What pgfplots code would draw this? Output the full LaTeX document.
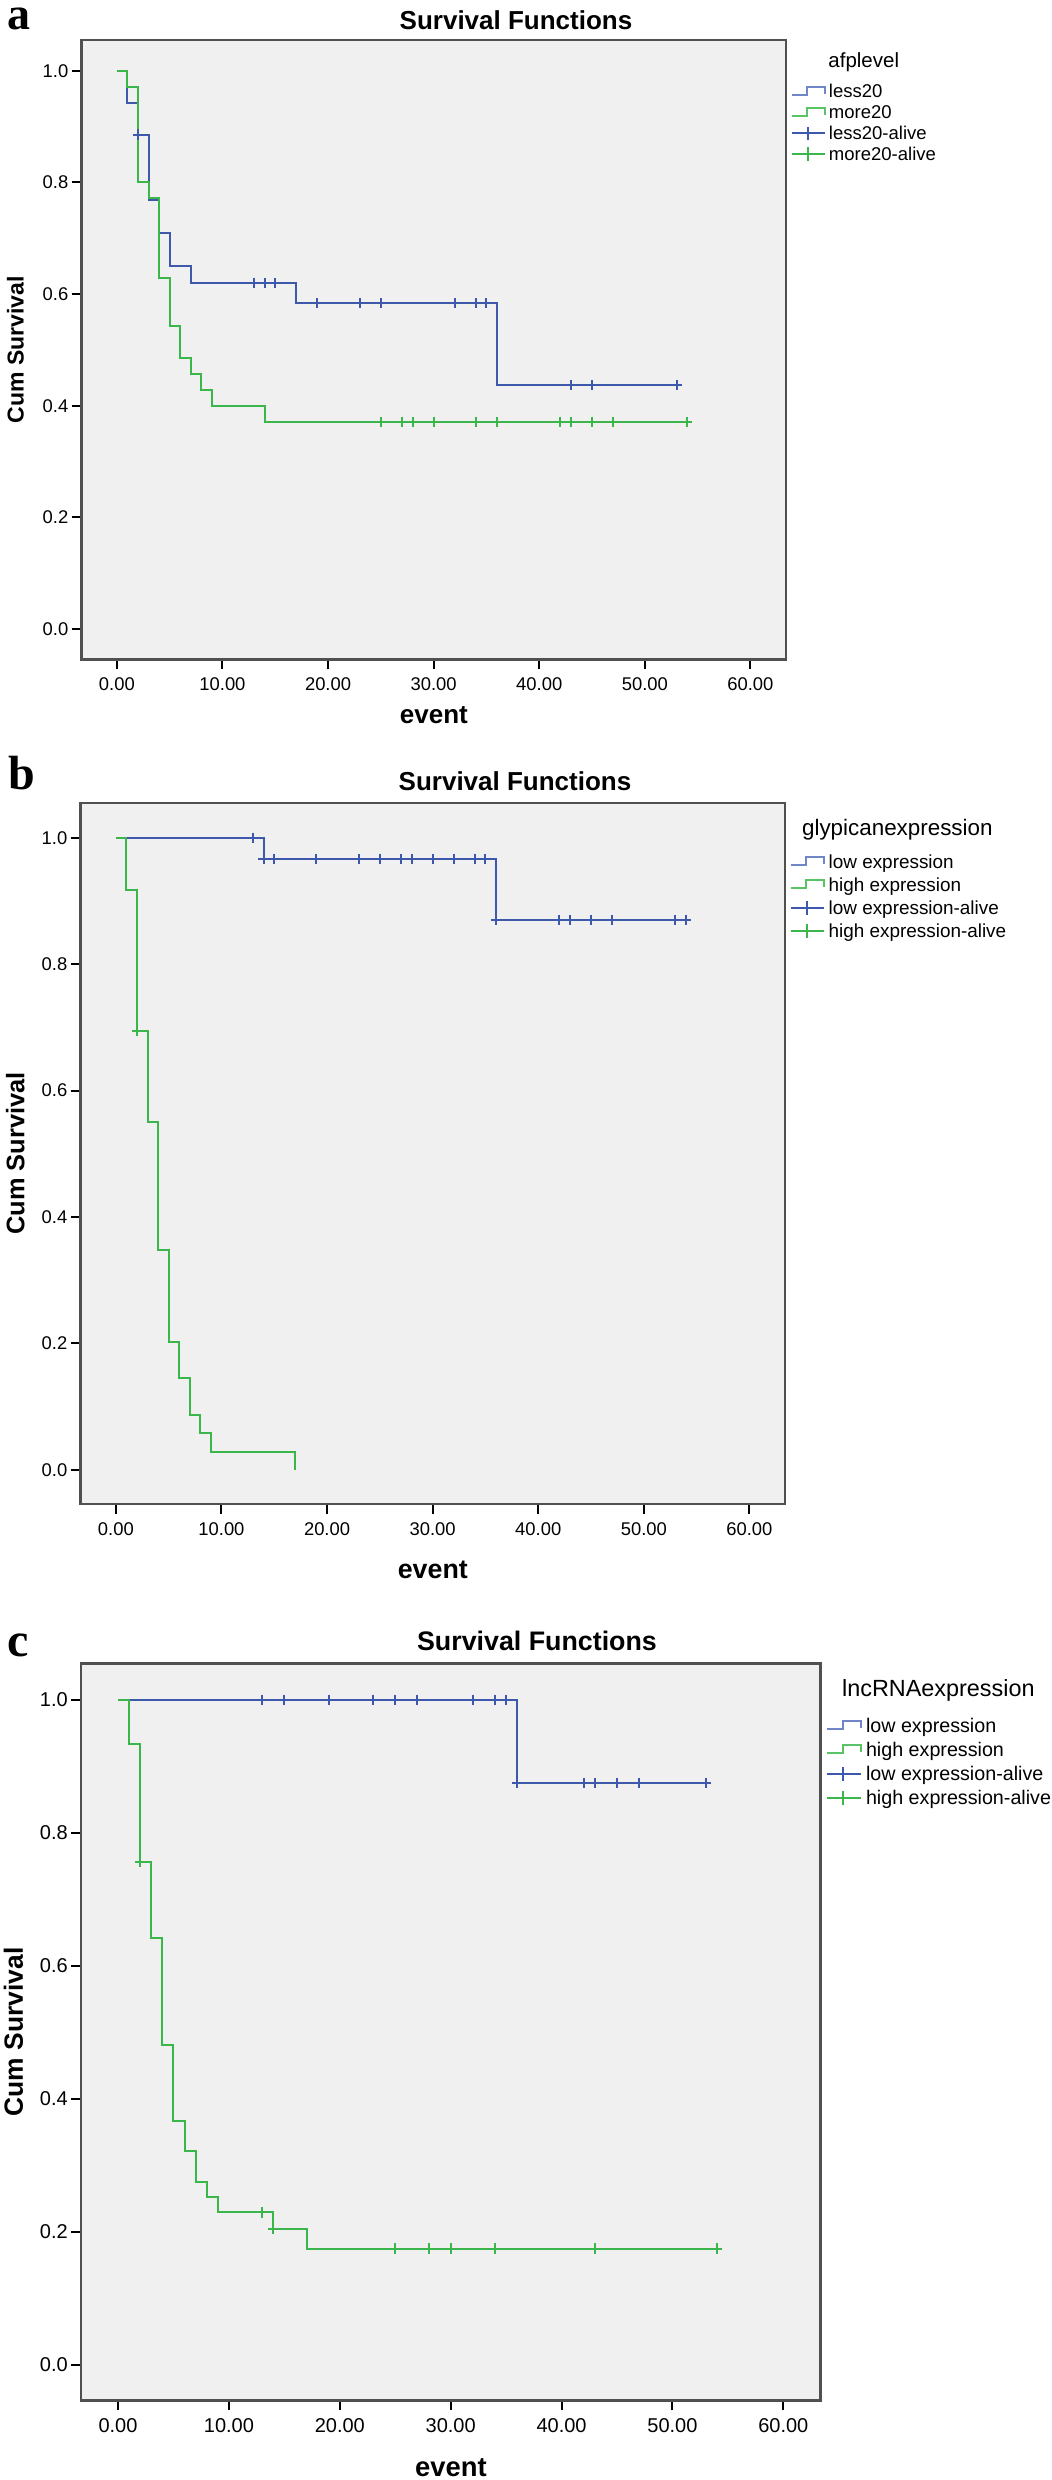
\documentclass[border=0pt]{standalone}
\usepackage{pgfplots}
\pgfplotsset{compat=1.18}
\usepackage{fontspec}
\setmainfont{Liberation Sans}
\newfontfamily\letterfont{Liberation Serif}
\definecolor{kmblue}{RGB}{62,88,172}
\definecolor{kmgreen}{RGB}{58,182,74}
\definecolor{kmblueL}{RGB}{112,134,200}
\definecolor{kmgreenL}{RGB}{88,196,100}
\definecolor{bggray}{RGB}{240,240,240}
\definecolor{framegray}{RGB}{80,80,80}

\pgfplotsset{
  kmaxis/.style={
    scale only axis, anchor=south west,
    xmin=-3.33, xmax=63.37, ymin=-0.054, ymax=1.055,
    axis background/.style={fill=bggray},
    axis line style={draw=framegray, line width=1.3pt},
    tick pos=left, tick align=outside, major tick length=5pt,
    tick style={black, line width=1pt},
    xtick={0,10,20,30,40,50,60}, ytick={0,0.2,0.4,0.6,0.8,1},
    scaled ticks=false,
    /pgf/number format/assume math mode=true,
    xticklabel style={/pgf/number format/fixed, /pgf/number format/fixed zerofill, /pgf/number format/precision=2, inner sep=4pt},
    yticklabel style={/pgf/number format/fixed, /pgf/number format/fixed zerofill, /pgf/number format/precision=1, inner sep=1.5pt},
    legend cell align=left,
  },
  surv/.style={const plot, mark=none, line width=1pt},
  cens/.style={only marks, mark=+, mark size=2.6pt, mark options={line width=1pt, solid}},
}

\begin{document}
\begin{tikzpicture}
\useasboundingbox (0pt,0pt) rectangle (525.5pt,1240pt);

% ---------------- panel a ----------------
\node[anchor=base west, inner sep=0pt, font=\letterfont\fontsize{23}{25}\selectfont\bfseries] at (3.5pt,1225.3pt) {a};
\node[inner sep=0pt, font=\fontsize{13}{15}\selectfont\bfseries] at (258pt,1229.8pt) {Survival Functions};
\node[anchor=west, inner sep=0pt, font=\fontsize{10.25}{12}\selectfont] at (414pt,1208.75pt) {afplevel};
\def\LW{16.5pt}
\begin{axis}[kmaxis,
  at={(40.85pt,910.35pt)}, width=352.15pt, height=309.65pt,
  ticklabel style={font=\fontsize{9.2}{11}\selectfont},
  xlabel={event}, ylabel={Cum Survival},
  xlabel style={at={(axis description cs:0.5,-0.0907)}, anchor=center, font=\fontsize{13}{15}\selectfont\bfseries},
  ylabel style={at={(axis description cs:-0.0941,0.5)}, anchor=center, font=\fontsize{11.5}{13}\selectfont\bfseries},
  legend style={at={(1,1)}, anchor=north west, xshift=2.5pt, yshift=-20.8pt, draw=none, fill=none,
    inner sep=0pt, outer sep=0pt, row sep=0pt, column sep=1.5pt,
    font=\fontsize{9.25}{11}\selectfont,
    nodes={inner sep=0pt, text height=8.175pt, text depth=2.175pt}},
]
\addplot[surv, kmblue, legend image code/.code={\draw[kmblueL, line width=1pt] (0pt,-1.5pt) -- (7.7pt,-1.5pt) -- (7.7pt,2.35pt) -- (\LW,2.35pt) -- (\LW,-1.2pt);}]
  coordinates {(0,1) (1,0.9429) (2,0.8857) (3,0.7676) (4,0.7086) (5,0.6495) (7,0.6200) (17,0.5835) (36,0.4376) (53,0.4376)};
\addlegendentry{less20}
\addplot[surv, kmgreen, legend image code/.code={\draw[kmgreenL, line width=1pt] (0pt,-1.5pt) -- (7.7pt,-1.5pt) -- (7.7pt,2.35pt) -- (\LW,2.35pt) -- (\LW,-1.2pt);}]
  coordinates {(0,1) (1,0.9714) (2,0.8000) (3,0.7714) (4,0.6286) (5,0.5429) (6,0.4857) (7,0.4571) (8,0.4286) (9,0.4000) (14,0.3714) (54,0.3714)};
\addlegendentry{more20}
\addplot[cens, kmblue, legend image code/.code={\draw[kmblue, line width=1pt] (0pt,0pt) -- (\LW,0pt); \draw[kmblue, line width=1pt] (0.475*\LW,-3.3pt) -- (0.475*\LW,3.3pt);}]
  coordinates {(2,0.8857) (13,0.6200) (13,0.6200) (14,0.6200) (15,0.6200) (19,0.5835) (23,0.5835) (23,0.5835) (25,0.5835) (25,0.5835) (32,0.5835) (34,0.5835) (35,0.5835) (43,0.4376) (45,0.4376) (53,0.4376)};
\addlegendentry{less20-alive}
\addplot[cens, kmgreen, legend image code/.code={\draw[kmgreen, line width=1pt] (0pt,0pt) -- (\LW,0pt); \draw[kmgreen, line width=1pt] (0.475*\LW,-3.3pt) -- (0.475*\LW,3.3pt);}]
  coordinates {(25,0.3714) (27,0.3714) (28,0.3714) (30,0.3714) (34,0.3714) (34,0.3714) (36,0.3714) (42,0.3714) (43,0.3714) (45,0.3714) (47,0.3714) (54,0.3714)};
\addlegendentry{more20-alive}
\end{axis}

% ---------------- panel b ----------------
\node[anchor=base west, inner sep=0pt, font=\letterfont\fontsize{24}{26}\selectfont\bfseries] at (4pt,845pt) {b};
\node[inner sep=0pt, font=\fontsize{13}{15}\selectfont\bfseries] at (257.5pt,849.5pt) {Survival Functions};
\node[anchor=west, inner sep=0pt, font=\fontsize{11.2}{13}\selectfont] at (400.85pt,825pt) {glypicanexpression};
\def\LW{16.35pt}
\begin{axis}[kmaxis,
  at={(40.35pt,488pt)}, width=352.15pt, height=350.5pt,
  ticklabel style={font=\fontsize{9.2}{11}\selectfont},
  xlabel={event}, ylabel={Cum Survival},
  xlabel style={at={(axis description cs:0.5,-0.0942)}, anchor=center, font=\fontsize{13.4}{15}\selectfont\bfseries},
  ylabel style={at={(axis description cs:-0.0927,0.5)}, anchor=center, font=\fontsize{12.7}{14}\selectfont\bfseries},
  legend style={at={(1,1)}, anchor=north west, xshift=2.5pt, yshift=-23.75pt, draw=none, fill=none,
    inner sep=0pt, outer sep=0pt, row sep=0pt, column sep=2pt,
    font=\fontsize{9.45}{11}\selectfont,
    nodes={inner sep=0pt, text height=8.85pt, text depth=2.65pt}},
]
\addplot[surv, kmblue, legend image code/.code={\draw[kmblueL, line width=1pt] (0pt,-1.5pt) -- (7.7pt,-1.5pt) -- (7.7pt,2.35pt) -- (\LW,2.35pt) -- (\LW,-1.2pt);}]
  coordinates {(0,1) (14,0.9667) (36,0.8700) (54,0.8700)};
\addlegendentry{low expression}
\addplot[surv, kmgreen, legend image code/.code={\draw[kmgreenL, line width=1pt] (0pt,-1.5pt) -- (7.7pt,-1.5pt) -- (7.7pt,2.35pt) -- (\LW,2.35pt) -- (\LW,-1.2pt);}]
  coordinates {(0,1) (1,0.9167) (2,0.6944) (3,0.5497) (4,0.3472) (5,0.2025) (6,0.1447) (7,0.0868) (8,0.0579) (9,0.0289) (17,0)};
\addlegendentry{high expression}
\addplot[cens, kmblue, legend image code/.code={\draw[kmblue, line width=1pt] (0pt,0pt) -- (\LW,0pt); \draw[kmblue, line width=1pt] (0.475*\LW,-3.3pt) -- (0.475*\LW,3.3pt);}]
  coordinates {(13,1) (13,1) (14,0.9667) (15,0.9667) (19,0.9667) (23,0.9667) (25,0.9667) (25,0.9667) (27,0.9667) (28,0.9667) (30,0.9667) (32,0.9667) (34,0.9667) (34,0.9667) (35,0.9667) (36,0.8700) (42,0.8700) (43,0.8700) (45,0.8700) (47,0.8700) (53,0.8700) (54,0.8700)};
\addlegendentry{low expression-alive}
\addplot[cens, kmgreen, legend image code/.code={\draw[kmgreen, line width=1pt] (0pt,0pt) -- (\LW,0pt); \draw[kmgreen, line width=1pt] (0.475*\LW,-3.3pt) -- (0.475*\LW,3.3pt);}]
  coordinates {(2,0.6944)};
\addlegendentry{high expression-alive}
\end{axis}

% ---------------- panel c ----------------
\node[anchor=base west, inner sep=0pt, font=\letterfont\fontsize{24}{26}\selectfont\bfseries] at (3.5pt,411.6pt) {c};
\node[inner sep=0pt, font=\fontsize{13.4}{15}\selectfont\bfseries] at (268.5pt,419.65pt) {Survival Functions};
\node[anchor=west, inner sep=0pt, font=\fontsize{11.7}{13}\selectfont] at (420.85pt,394.6pt) {lncRNAexpression};
\def\LW{17.15pt}
\begin{axis}[kmaxis,
  at={(40.55pt,39.8pt)}, width=369.8pt, height=368.55pt,
  ticklabel style={font=\fontsize{10}{12}\selectfont},
  xlabel={event}, ylabel={Cum Survival},
  xlabel style={at={(axis description cs:0.5,-0.0917)}, anchor=center, font=\fontsize{13.7}{15}\selectfont\bfseries},
  ylabel style={at={(axis description cs:-0.0915,0.5)}, anchor=center, font=\fontsize{13.2}{15}\selectfont\bfseries},
  legend style={at={(1,1)}, anchor=north west, xshift=2.5pt, yshift=-25.35pt, draw=none, fill=none,
    inner sep=0pt, outer sep=0pt, row sep=0pt, column sep=2pt,
    font=\fontsize{9.85}{12}\selectfont,
    nodes={inner sep=0pt, text height=9.2pt, text depth=2.8pt}},
]
\addplot[surv, kmblue, legend image code/.code={\draw[kmblueL, line width=1pt] (0pt,-1.5pt) -- (8pt,-1.5pt) -- (8pt,2.4pt) -- (\LW,2.4pt) -- (\LW,-1.2pt);}]
  coordinates {(0,1) (36,0.875) (53,0.875)};
\addlegendentry{low expression}
\addplot[surv, kmgreen, legend image code/.code={\draw[kmgreenL, line width=1pt] (0pt,-1.5pt) -- (8pt,-1.5pt) -- (8pt,2.4pt) -- (\LW,2.4pt) -- (\LW,-1.2pt);}]
  coordinates {(0,1) (1,0.9333) (2,0.7556) (3,0.6411) (4,0.4808) (5,0.3663) (6,0.3205) (7,0.2747) (8,0.2518) (9,0.2289) (14,0.2035) (17,0.1744) (54,0.1744)};
\addlegendentry{high expression}
\addplot[cens, kmblue, legend image code/.code={\draw[kmblue, line width=1pt] (0pt,0pt) -- (\LW,0pt); \draw[kmblue, line width=1pt] (0.475*\LW,-3.4pt) -- (0.475*\LW,3.4pt);}]
  coordinates {(13,1) (13,1) (15,1) (19,1) (23,1) (23,1) (25,1) (25,1) (27,1) (32,1) (34,1) (34,1) (35,1) (36,0.875) (42,0.875) (43,0.875) (45,0.875) (45,0.875) (47,0.875) (53,0.875)};
\addlegendentry{low expression-alive}
\addplot[cens, kmgreen, legend image code/.code={\draw[kmgreen, line width=1pt] (0pt,0pt) -- (\LW,0pt); \draw[kmgreen, line width=1pt] (0.475*\LW,-3.4pt) -- (0.475*\LW,3.4pt);}]
  coordinates {(2,0.7556) (13,0.2289) (14,0.2035) (25,0.1744) (28,0.1744) (30,0.1744) (34,0.1744) (43,0.1744) (54,0.1744)};
\addlegendentry{high expression-alive}
\end{axis}
\end{tikzpicture}
\end{document}
